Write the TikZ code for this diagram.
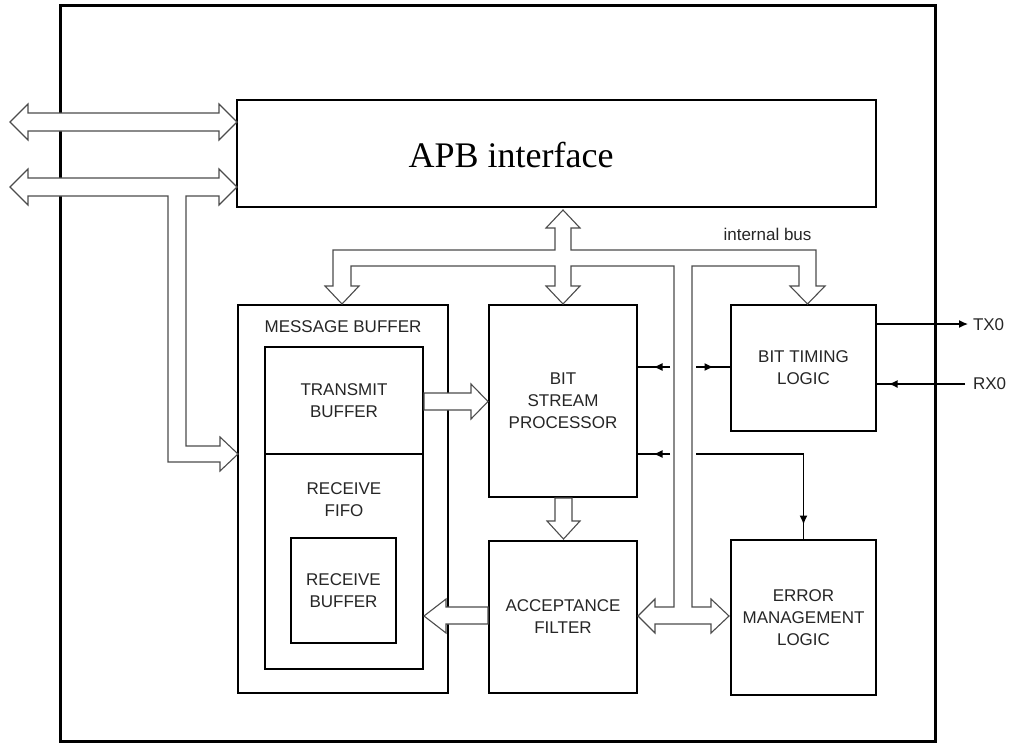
\documentclass[tikz,border=0pt]{standalone}
\usepackage{fontspec}
\setmainfont{Liberation Sans}
\setsansfont{Liberation Sans}
\newfontfamily\apbfont{Liberation Serif}
\usetikzlibrary{arrows.meta,decorations.markings}
\begin{document}
\begin{tikzpicture}[x=1pt,y=-1pt,
  frame/.style={draw=black, line width=3pt, outer sep=0pt, inner sep=0pt},
  blockbox/.style={draw=black, line width=2.8pt, outer sep=0pt, inner sep=0pt, fill=white,
     align=center, text=black!85, font=\fontsize{17}{22}\selectfont},
  lbl/.style={inner sep=0pt, outer sep=0pt, align=center, text=black!85, font=\fontsize{17}{22}\selectfont},
  bus/.style={draw=black!70, line width=1.1pt, fill=white, line join=miter},
  thinline/.style={draw=black, line width=1.3pt},
  midarrow/.style={postaction={decorate}, decoration={markings, mark=at position #1 with {\arrow{Latex[length=9pt,width=8pt]}}}}
]
\useasboundingbox (0,0) rectangle (1011,742);

% outer chip border
\node[frame, minimum width=875pt, minimum height=736pt] (chip) at (497.5,373) {};

% blocks
\node[blockbox, minimum width=639pt, minimum height=107pt] (apb) at (556.5,153.5) {};
\node[inner sep=0pt, text=black, font=\apbfont\fontsize{36}{40}\selectfont] (apbtext) at (511,155) {APB interface};

\node[blockbox, minimum width=210pt, minimum height=388pt] (mb) at (343,499) {};
\node[lbl] (mbtext) at (343,327) {MESSAGE BUFFER};
\node[blockbox, minimum width=158pt, minimum height=322pt] (trf) at (344,508) {};
\coordinate (divy) at (0,454);
\draw[line width=2.8pt] (trf.west |- divy) -- (trf.east |- divy);
\node[lbl] (txbtext) at (344,401) {TRANSMIT\\BUFFER};
\node[lbl] (fifotext) at (344,500) {RECEIVE\\FIFO};
\node[blockbox, minimum width=105pt, minimum height=105pt] (rb) at (343.5,590.5) {RECEIVE\\BUFFER};

\node[blockbox, minimum width=148pt, minimum height=192pt] (bsp) at (563,401) {BIT\\STREAM\\PROCESSOR};
\node[blockbox, minimum width=148pt, minimum height=152pt] (af) at (563,617) {ACCEPTANCE\\FILTER};
\node[blockbox, minimum width=145pt, minimum height=126pt] (btl) at (803.5,368) {BIT TIMING\\LOGIC};
\node[blockbox, minimum width=145pt, minimum height=155pt] (eml) at (803.5,617.5) {ERROR\\MANAGEMENT\\LOGIC};

\node[lbl] (ibus) at (767.5,234) {internal bus};

% external bus arrows (left)
\draw[bus] (10,122) -- (28,104) -- (28,113) -- (219,113) -- (219,104) -- (237,122)
  -- (219,140) -- (219,131) -- (28,131) -- (28,140) -- cycle;
\draw[bus] (10,187) -- (28,169) -- (28,178) -- (219,178) -- (219,169) -- (237,187)
  -- (219,205) -- (219,196) -- (186,196) -- (186,446) -- (220,446) -- (220,437)
  -- (238,454) -- (220,471) -- (220,462) -- (168,462) -- (168,196) -- (28,196)
  -- (28,205) -- cycle;

% internal bus
\draw[bus] (563,210) -- (580,228) -- (571,228) -- (571,250) -- (816,250) -- (816,286)
  -- (825,286) -- (807.5,304) -- (790,286) -- (799,286) -- (799,266) -- (692,266)
  -- (692,607) -- (711,607) -- (711,599) -- (729,616) -- (711,633) -- (711,624)
  -- (655,624) -- (655,633) -- (638,616) -- (655,599) -- (655,607) -- (674,607)
  -- (674,266) -- (571,266) -- (571,286) -- (580,286) -- (563,304) -- (546,286)
  -- (555,286) -- (555,266) -- (351,266) -- (351,286) -- (359,286) -- (342,304)
  -- (325,286) -- (333,286) -- (333,250) -- (555,250) -- (555,228) -- (546,228) -- cycle;

% transmit buffer -> bit stream processor
\draw[bus] (424,393) -- (471,393) -- (471,384) -- (488,401.5) -- (471,419) -- (471,410)
  -- (424,410) -- cycle;
% bit stream processor -> acceptance filter
\draw[bus] (555,498) -- (572,498) -- (572,521) -- (580,521) -- (563.5,539) -- (547,521)
  -- (555,521) -- cycle;
% acceptance filter -> receive fifo
\draw[bus] (488,607) -- (446,607) -- (446,599) -- (424,616) -- (446,633) -- (446,624)
  -- (488,624) -- cycle;

% thin connectors
\coordinate (bl1) at (670,367);
\coordinate (br1) at (696,367);
\coordinate (bl2) at (670,454);
\coordinate (br2) at (696,454);
\draw[thinline, midarrow=0.5] (bl1) -- (bsp.east |- bl1);
\draw[thinline, midarrow=0.5] (br1) -- (btl.west |- br1);
\draw[thinline, midarrow=0.5] (bl2) -- (bsp.east |- bl2);
\draw[thinline, midarrow=0.92] (br2) -| (eml.north);

\node[lbl, anchor=west] (tx) at (973,325) {TX0};
\node[lbl, anchor=west] (rx) at (973,384) {RX0};
\draw[thinline, -{Latex[length=9pt,width=8pt]}, shorten >=5pt] (btl.east |- 0,324) -- (tx.west |- 0,324);
\draw[thinline, midarrow=0.87, shorten <=8pt] (rx.west) -- (btl.east |- rx);
\end{tikzpicture}
\end{document}
